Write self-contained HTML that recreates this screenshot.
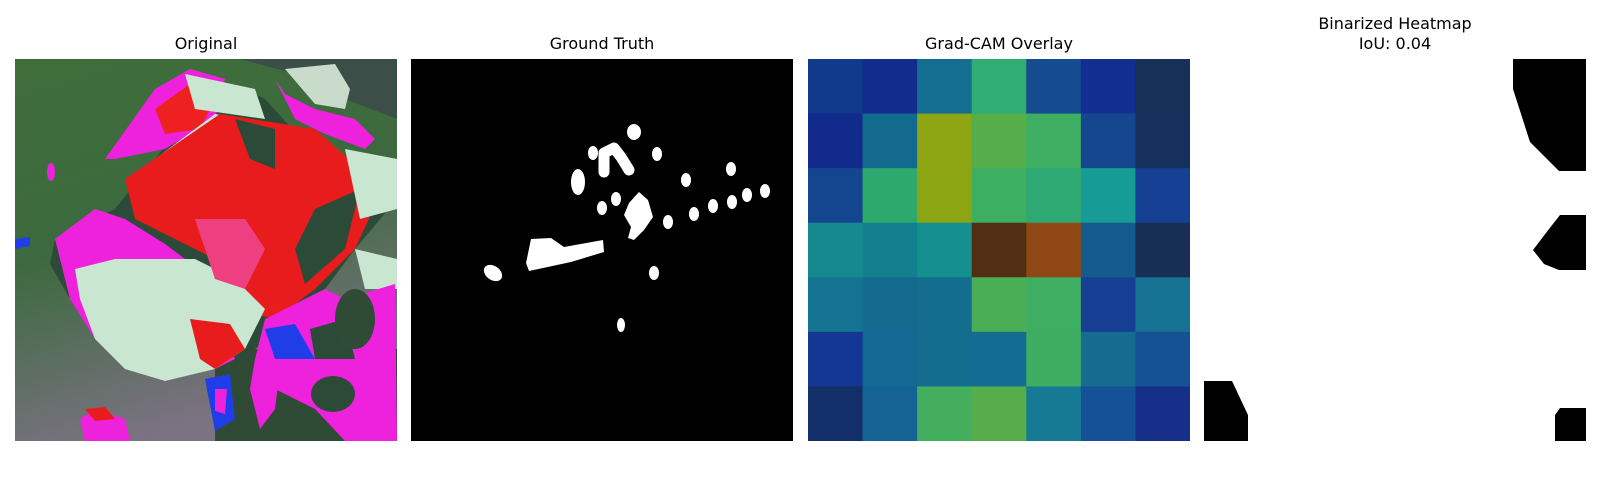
<!DOCTYPE html>
<html><head><meta charset="utf-8"><style>
html,body{margin:0;padding:0;background:#fff;width:1600px;height:500px;overflow:hidden;font-family:"DejaVu Sans","Liberation Sans",sans-serif}
.t{position:absolute;font-size:16px;color:#000;text-align:center;width:382px;line-height:20px}
svg{position:absolute}
</style></head><body>
<div class="t" style="left:15px;top:34px">Original</div>
<div class="t" style="left:411px;top:34px">Ground Truth</div>
<div class="t" style="left:808px;top:34px">Grad-CAM Overlay</div>
<div class="t" style="left:1204px;top:14px">Binarized Heatmap<br>IoU: 0.04</div>

<svg style="left:15px;top:59px" width="382" height="382" viewBox="0 0 382 382">
<defs><linearGradient id="bg" x1="0" y1="0" x2="0.3" y2="1"><stop offset="0" stop-color="#3f6e3a"/><stop offset="0.5" stop-color="#3c6a3e"/><stop offset="1" stop-color="#7b7282"/></linearGradient></defs>
<rect width="382" height="382" fill="url(#bg)"/>
<rect x="200" y="290" width="182" height="92" fill="#2f4a35"/>
<path d="M225,0 L382,0 L382,60 L330,40 L300,20 Z" fill="#3c4e48"/>
<path d="M270,10 L320,5 L335,30 L330,50 L300,45 Z" fill="#c9dccb"/>
<path d="M260,20 L270,35 L300,50 L340,60 L360,80 L350,90 L310,75 L280,60 Z" fill="#ee22dd"/>
<path d="M40,180 L100,150 L140,100 L175,55 L220,25 L250,40 L300,95 L340,110 L372,125 L382,140 L340,190 L310,230 L280,260 L240,290 L200,310 L150,322 L110,310 L80,280 L55,240 L35,205 Z" fill="#2c4a38"/>
<path d="M90,100 L140,30 L175,10 L210,20 L200,60 L150,90 L100,100 Z" fill="#ee22dd"/>
<path d="M140,50 L175,25 L200,40 L185,70 L150,75 Z" fill="#ee2020"/>
<path d="M170,15 L240,30 L250,60 L215,55 L180,50 Z" fill="#c8e6d0"/>
<path d="M140,100 L200,55 L230,60 L210,140 L180,180 L140,160 Z" fill="#c8e6d0"/>
<path d="M205,55 L300,70 L345,110 L370,125 L340,190 L300,230 L260,260 L220,250 L200,200 L160,180 L120,160 L110,120 Z" fill="#e81c1c"/>
<path d="M220,60 L260,70 L260,110 L235,100 Z" fill="#2c4a38"/>
<path d="M300,150 L345,130 L330,190 L290,225 L280,190 Z" fill="#2c4a38"/>
<path d="M40,180 L80,150 L110,160 L150,185 L170,200 L160,240 L200,260 L220,300 L200,310 L150,322 L110,310 L80,280 L55,240 Z" fill="#ee22dd"/>
<path d="M60,210 L100,200 L150,200 L180,200 L220,220 L250,250 L230,290 L200,310 L150,322 L110,310 L80,280 L65,240 Z" fill="#c8e6d0"/>
<path d="M175,260 L215,265 L230,290 L200,310 L185,300 Z" fill="#e81c1c"/>
<path d="M180,160 L230,160 L250,190 L230,230 L200,220 Z" fill="#ee4080"/>
<path d="M330,90 L382,100 L382,150 L345,160 Z" fill="#c8e6d0"/>
<path d="M340,190 L382,200 L382,230 L350,230 Z" fill="#c8e6d0"/>
<path d="M250,260 L310,230 L330,240 L380,225 L382,382 L330,382 L300,350 L260,330 L240,300 Z" fill="#ee22dd"/>
<path d="M295,270 L330,260 L340,300 L300,300 Z" fill="#2c4a38"/>
<ellipse cx="318" cy="335" rx="22" ry="18" fill="#2c4a38"/>
<ellipse cx="340" cy="260" rx="20" ry="30" fill="#2f4a35"/>
<path d="M250,270 L280,265 L300,300 L260,300 Z" fill="#1f3ee8"/>
<path d="M190,320 L215,315 L220,360 L200,372 Z" fill="#1f3ee8"/>
<path d="M200,330 L212,330 L210,355 L200,352 Z" fill="#ee22dd"/>
<path d="M240,300 L265,310 L260,350 L245,370 L235,330 Z" fill="#ee22dd"/>
<path d="M65,360 L80,350 L110,360 L115,382 L70,382 Z" fill="#ee22dd"/>
<path d="M70,350 L90,348 L100,360 L80,362 Z" fill="#e81c1c"/>
<ellipse cx="36" cy="113" rx="4" ry="9" fill="#ee22dd"/>
<path d="M0,180 L15,178 L15,187 L0,190 Z" fill="#1f3ee8"/>
</svg>

<svg style="left:411px;top:59px" width="382" height="382" viewBox="0 0 382 382">
<rect width="382" height="382" fill="#000"/>
<g fill="#fff">
<ellipse cx="223" cy="73" rx="7" ry="8"/>
<ellipse cx="182" cy="94" rx="5" ry="7"/>
<ellipse cx="246" cy="95" rx="5" ry="7"/>
<path d="M193,113 L193,94 L203,89 L210,98 L218,111" fill="none" stroke="#fff" stroke-width="11" stroke-linecap="round" stroke-linejoin="round"/>
<ellipse cx="167" cy="123" rx="7" ry="13"/>
<ellipse cx="275" cy="121" rx="5" ry="7"/>
<ellipse cx="320" cy="110" rx="5" ry="7"/>
<ellipse cx="354" cy="132" rx="5" ry="7"/>
<ellipse cx="336" cy="136" rx="5" ry="7"/>
<ellipse cx="321" cy="143" rx="5" ry="7"/>
<ellipse cx="302" cy="147" rx="5" ry="7"/>
<ellipse cx="283" cy="155" rx="5" ry="7"/>
<ellipse cx="257" cy="163" rx="5" ry="7"/>
<ellipse cx="205" cy="140" rx="5" ry="7"/>
<ellipse cx="191" cy="149" rx="5" ry="7"/>
<path d="M228,133 L237,141 L242,158 L233,171 L223,181 L217,179 L220,168 L213,156 L218,144 Z"/>
<path d="M120,180 L140,179 L153,188 L192,181 L193,193 L160,203 L118,212 L115,204 Z"/>
<ellipse cx="82" cy="214" rx="10" ry="7" transform="rotate(35 82 214)"/>
<ellipse cx="243" cy="214" rx="5" ry="7"/>
<ellipse cx="210" cy="266" rx="4" ry="7"/>
</g>
</svg>

<svg id="cam" style="left:808px;top:59px" width="382" height="382" viewBox="0 0 382 382"></svg>

<svg style="left:1204px;top:59px" width="382" height="382" viewBox="0 0 382 382">
<rect width="382" height="382" fill="#fff"/>
<g fill="#000">
<path d="M309,0 L382,0 L382,112 L355,112 L351,108 L326,83 L309,30 Z"/>
<path d="M356,156 L382,156 L382,211 L355,211 L340,205 L329,191 L345,170 Z"/>
<path d="M0,322 L28,322 L44,356 L44,382 L0,382 Z"/>
<path d="M356,349 L382,349 L382,382 L351,382 L351,356 Z"/>
</g>
</svg>

<script>
const rows = [0,1,2,3,4,5,6];
const row0 = ["#123a8c","#112c8c","#136e91","#30ad72","#154b8f","#132e91","#163057"];
const row1 = ["#112a8c","#126b8f","#8fa614","#56ae4a","#3dae62","#154790","#16305e"];
const row2 = ["#144690","#2ea96e","#8ca513","#3daf62","#2ea973","#169c94","#153f93"];
const row3 = ["#158890","#12808f","#158f8f","#522e12","#8f4813","#155a8c","#172f54"];
const row4 = ["#147390","#136a8f","#136d8f","#4aae56","#3dae62","#153e94","#157292"];
const row5 = ["#143694","#126a94","#136d8f","#136c91","#3ead62","#156c91","#155195"];
const row6 = ["#132f6a","#146394","#44ae5f","#56ad4a","#167a94","#155196","#163089"];
const grid = [row0,row1,row2,row3,row4,row5,row6];
const svg = document.getElementById('cam');
const N = grid.length, S = 382;
const xs = i => i * S / row0.length;
const ys = j => j * S / N;
grid.forEach((row, j) => {
  row.forEach((c, i) => {
    const r = document.createElementNS('http://www.w3.org/2000/svg','rect');
    r.setAttribute('x', xs(i)); r.setAttribute('y', ys(j));
    r.setAttribute('width', xs(i+1)-xs(i)+0.5); r.setAttribute('height', ys(j+1)-ys(j)+0.5);
    r.setAttribute('fill', c);
    
    
    svg.appendChild(r);
  });
});
</script>
</body></html>
